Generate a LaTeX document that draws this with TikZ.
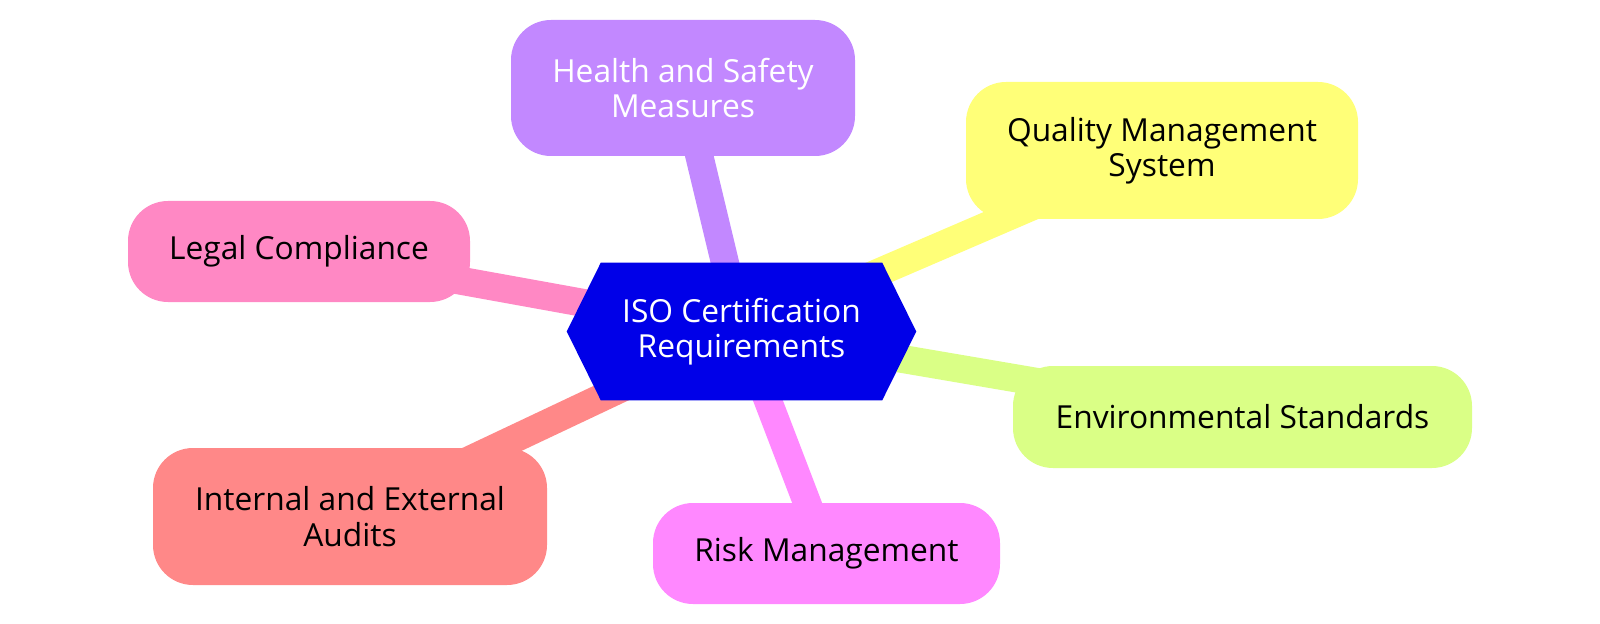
\documentclass[tikz,border=0pt]{standalone}
\usepackage{fontspec}
\setmainfont{Open Sans}
\usetikzlibrary{backgrounds}
\definecolor{rootblue}{HTML}{0000E8}
\definecolor{cpurple}{HTML}{C288FF}
\definecolor{cyellow}{HTML}{FFFF78}
\definecolor{cgreen}{HTML}{DAFF86}
\definecolor{cmagenta}{HTML}{FF88FF}
\definecolor{csalmon}{HTML}{FF8888}
\definecolor{cpink}{HTML}{FF88C4}
\tikzset{
  leaf/.style={rounded corners=30pt, inner sep=0pt, align=center,
    font=\fontsize{23.8pt}{26.4pt}\selectfont, text=black},
  rootnode/.style={inner sep=0pt, align=center, minimum width=261.75pt, minimum height=102.75pt,
    font=\fontsize{23.8pt}{26.4pt}\selectfont, text=white},
  branch/.style={line width=21pt}
}
\begin{document}
\begin{tikzpicture}[x=0.75pt,y=-0.75pt]
\useasboundingbox (0,0) rectangle (1600,624);
\node[rootnode] (root) at (741.5,331.5) {ISO Certification\\Requirements};
\node[leaf, fill=cpurple, text=white, minimum width=258pt, minimum height=102pt] (health) at (683,88) {Health and Safety\\Measures};
\node[leaf, fill=cyellow, minimum width=294pt, minimum height=102.75pt] (quality) at (1162,150.5) {Quality Management\\System};
\node[leaf, fill=cpink, minimum width=256.5pt, minimum height=75.75pt] (legal) at (299,251.5) {Legal Compliance};
\node[leaf, fill=cgreen, minimum width=344.25pt, minimum height=76.5pt] (env) at (1242.5,417) {Environmental Standards};
\node[leaf, fill=csalmon, minimum width=295.5pt, minimum height=102.75pt] (audits) at (350,516.5) {Internal and External\\Audits};
\node[leaf, fill=cmagenta, minimum width=260.25pt, minimum height=75.75pt] (risk) at (826.5,553.5) {Risk Management};
\begin{scope}[on background layer]
  \draw[branch, cpurple] (root.center) -- (health.center);
  \draw[branch, cyellow] (root.center) -- (quality.center);
  \draw[branch, cpink] (root.center) -- (legal.center);
  \draw[branch, cgreen] (root.center) -- (env.center);
  \draw[branch, csalmon] (root.center) -- (audits.center);
  \draw[branch, cmagenta] (root.center) -- (risk.center);
  \fill[rootblue] (root.west) -- ([xshift=25.5pt]root.north west) -- ([xshift=-25.5pt]root.north east)
    -- (root.east) -- ([xshift=-25.5pt]root.south east) -- ([xshift=25.5pt]root.south west) -- cycle;
\end{scope}
\end{tikzpicture}
\end{document}
